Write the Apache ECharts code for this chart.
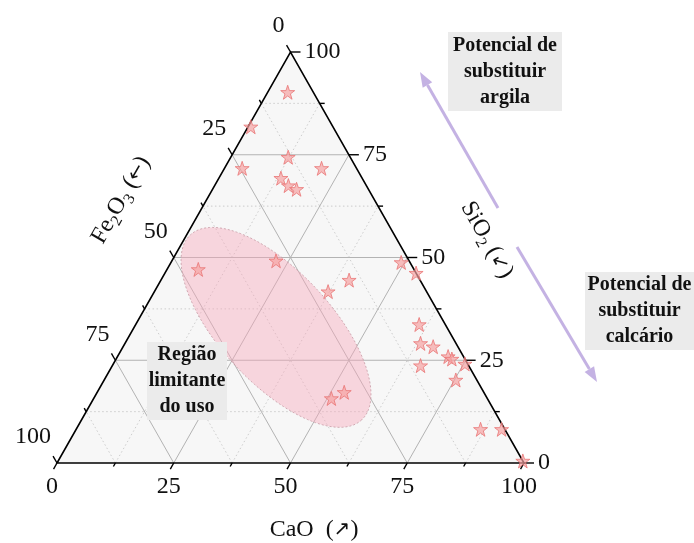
<!DOCTYPE html>
<html>
<head>
<meta charset="utf-8">
<script src="https://cdn.jsdelivr.net/npm/echarts@6/dist/echarts.min.js"></script>
<style>
  html, body { margin: 0; padding: 0; background: #fff; }
  #chart { width: 694px; height: 543px; }
</style>
</head>
<body>
<div id="chart"></div>
<script>
// Oxide composition of each sample (wt%)
const cao   = [4.3, 0.6, 12.3, 3.8, 20.8, 13.3, 15.8, 18.0, 6.7, 22.3, 37.2, 40.3, 50.9, 52.9,
               49.3, 53.8, 60.7, 63.3, 66.4, 70.8, 71.9, 75.3, 66.0, 75.3, 86.6, 91.1, 99.5];
const sio2  = [90.2, 81.8, 74.4, 71.7, 71.7, 69.3, 67.5, 66.6, 47.1, 49.2, 41.7, 44.5, 15.7, 17.2,
               48.8, 46.2, 33.7, 29.1, 28.3, 25.9, 25.3, 24.1, 23.7, 20.2, 8.2, 8.2, 0.5];
const fe2o3 = [5.5, 17.6, 13.3, 24.5, 7.5, 17.4, 16.7, 15.4, 46.2, 28.5, 21.1, 15.2, 33.4, 29.9,
               1.9, 0.0, 5.6, 7.6, 5.3, 3.3, 2.8, 0.6, 10.3, 4.5, 5.2, 0.7, 0.0];

// Ternary axis ticks
const majorTicks = [0, 25, 50, 75, 100];
const minorTicks = [12.5, 37.5, 62.5, 87.5];
const tickLabels = ['0', '25', '50', '75', '100'];
const majorGrid  = [25, 50, 75];

// "Região limitante do uso" ellipse: centre and ends of its two semi-axes (CaO, SiO2, Fe2O3)
const ellipseCenter   = [30.4, 33.0, 36.6];
const ellipseMajorEnd = [60.0, 10.5, 29.5];
const ellipseMinorEnd = [34.6, 42.2, 23.2];

const SERIF = '"Liberation Serif", "Times New Roman", "DejaVu Serif", serif';
const ARROW_FONT = '"DejaVu Sans", sans-serif';

// ternary (CaO, SiO2, Fe2O3) -> cartesian value space of the hidden axes
function tern(c, s, f) {
  const t = c + s + f;
  return [(c + s / 2) / t * 100, s / t * 100];
}

function seg(p, q, style) {
  return { type: 'line', silent: true,
    shape: { x1: p[0], y1: p[1], x2: q[0], y2: q[1] }, style: style };
}
function txt(x, y, text, align, vAlign) {
  return { type: 'text', x: x, y: y, silent: true,
    style: { text: text, fill: '#111', fontSize: 24, fontFamily: SERIF,
      align: align, textAlign: align, verticalAlign: vAlign, textVerticalAlign: vAlign } };
}
function unit(p, q) {
  const dx = q[0] - p[0], dy = q[1] - p[1], L = Math.hypot(dx, dy);
  return [dx / L, dy / L];
}

function renderFrame(params, api) {
  const P = (c, s, f) => api.coord(tern(c, s, f));
  const A = P(0, 0, 100), B = P(100, 0, 0), T = P(0, 100, 0);
  const kids = [];
  kids.push({ type: 'polygon', silent: true, shape: { points: [A, B, T] }, style: { fill: '#f7f7f7' } });

  const minorStyle = { stroke: '#c2c2c2', lineWidth: 0.8, lineDash: [1.5, 2.5] };
  const majorStyle = { stroke: '#b3b3b3', lineWidth: 1 };
  const family = (v, st) => {
    kids.push(seg(P(0, v, 100 - v), P(100 - v, v, 0), st));   // SiO2 = v
    kids.push(seg(P(v, 0, 100 - v), P(v, 100 - v, 0), st));   // CaO = v
    kids.push(seg(P(100 - v, 0, v), P(0, 100 - v, v), st));   // Fe2O3 = v
  };
  minorTicks.forEach(v => family(v, minorStyle));
  majorGrid.forEach(v => family(v, majorStyle));

  kids.push({ type: 'polygon', silent: true, shape: { points: [A, B, T] },
    style: { fill: 'none', stroke: '#000', lineWidth: 1.6 } });

  // tick directions follow each axis' grid lines, pointing outwards
  const dBottom = unit(T, A);
  const dRight = [1, 0];
  const dLeft = unit(B, T);
  const tickStyle = { stroke: '#000', lineWidth: 1.4 };
  const tick = (p, d, len) => seg(p, [p[0] + d[0] * len, p[1] + d[1] * len], tickStyle);

  majorTicks.forEach((v, i) => {
    const pb = P(v, 0, 100 - v);
    const pr = P(100 - v, v, 0);
    const pl = P(0, 100 - v, v);
    kids.push(tick(pb, dBottom, 7));
    kids.push(tick(pr, dRight, 10));
    kids.push(tick(pl, dLeft, 8));
    kids.push(txt(pb[0] - 5, pb[1] + 24, tickLabels[i], 'center', 'middle'));
    kids.push(txt(pr[0] + 14, pr[1], tickLabels[i], 'left', 'middle'));
    kids.push(txt(pl[0] - 6, pl[1] - 26, tickLabels[i], 'right', 'middle'));
  });
  minorTicks.forEach(v => {
    kids.push(tick(P(v, 0, 100 - v), dBottom, 4));
    kids.push(tick(P(100 - v, v, 0), dRight, 5));
    kids.push(tick(P(0, 100 - v, v), dLeft, 4));
  });
  return { type: 'group', children: kids };
}

function renderEllipse(params, api) {
  const C = api.coord(tern.apply(null, ellipseCenter));
  const M = api.coord(tern.apply(null, ellipseMajorEnd));
  const N = api.coord(tern.apply(null, ellipseMinorEnd));
  const a = Math.hypot(M[0] - C[0], M[1] - C[1]);
  const b = Math.hypot(N[0] - C[0], N[1] - C[1]);
  const ang = Math.atan2(M[1] - C[1], M[0] - C[0]);
  const ca = Math.cos(ang), sa = Math.sin(ang);
  const pts = [];
  for (let k = 0; k < 144; k++) {
    const t = k / 144 * 2 * Math.PI;
    const ex = a * Math.cos(t), ey = b * Math.sin(t);
    pts.push([C[0] + ex * ca - ey * sa, C[1] + ex * sa + ey * ca]);
  }
  return { type: 'polygon', silent: true, shape: { points: pts },
    style: { fill: 'rgba(247,168,186,0.42)', stroke: '#c79aa4', lineWidth: 0.8, lineDash: [2, 2] } };
}

// lavender arrows beside the SiO2 axis
function arrow(tail, tip) {
  const d = unit(tail, tip), n = [-d[1], d[0]];
  const len = 15, hw = 5.5;
  const base = [tip[0] - d[0] * len, tip[1] - d[1] * len];
  return [
    { type: 'line', silent: true, z: 100, shape: { x1: tail[0], y1: tail[1], x2: base[0], y2: base[1] },
      style: { stroke: '#c4b2e3', lineWidth: 3 } },
    { type: 'polygon', silent: true, z: 100,
      shape: { points: [tip, [base[0] + n[0] * hw, base[1] + n[1] * hw], [base[0] - n[0] * hw, base[1] - n[1] * hw]] },
      style: { fill: '#c4b2e3' } }
  ];
}

function noteBox(x, y, w, h, text) {
  return [
    { type: 'rect', silent: true, z: 100, shape: { x: x, y: y, width: w, height: h }, style: { fill: '#ebebeb' } },
    { type: 'text', silent: true, z: 101, x: x + w / 2, y: y + h / 2,
      style: { text: text, fill: '#111', fontSize: 20, fontWeight: 'bold', fontFamily: SERIF, lineHeight: 26,
        align: 'center', textAlign: 'center', verticalAlign: 'middle', textVerticalAlign: 'middle' } }
  ];
}

const titleRich = {
  n: { fontSize: 24, fontFamily: SERIF, fill: '#111', color: '#111', lineHeight: 30, verticalAlign: 'middle' },
  s: { fontSize: 16, fontFamily: SERIF, fill: '#111', color: '#111', lineHeight: 16, verticalAlign: 'bottom' },
  a: { fontSize: 20, fontFamily: ARROW_FONT, fill: '#111', color: '#111', lineHeight: 30, verticalAlign: 'middle' }
};
function axisTitle(x, y, rot, text) {
  return { type: 'text', silent: true, z: 100, x: x, y: y, rotation: rot,
    style: { text: text, rich: titleRich, fill: '#111',
      align: 'center', textAlign: 'center', verticalAlign: 'middle', textVerticalAlign: 'middle' } };
}

const edgeAngle = Math.atan2(411, 233.5);

const chart = echarts.init(document.getElementById('chart'), null, { renderer: 'canvas' });
chart.setOption({
  animation: false,
  backgroundColor: '#fff',
  grid: { left: 57, top: 52, width: 467, height: 411 },
  xAxis: { type: 'value', min: 0, max: 100, show: false },
  yAxis: { type: 'value', min: 0, max: 100, show: false },
  series: [
    { type: 'custom', name: 'frame', coordinateSystem: 'cartesian2d', clip: false, silent: true,
      data: [[0, 0]], renderItem: renderFrame, z: 1 },
    { type: 'custom', name: 'Região limitante do uso', coordinateSystem: 'cartesian2d', clip: false, silent: true,
      data: [[0, 0]], renderItem: renderEllipse, z: 2 },
    { type: 'scatter', name: 'amostras', clip: false, z: 3,
      symbol: 'path://M50,2 L61.8,36.2 L97.6,36.2 L68.6,57.4 L79.6,91.8 L50,70.6 L20.4,91.8 L31.4,57.4 L2.4,36.2 L38.2,36.2 Z',
      symbolSize: 14,
      itemStyle: { color: 'rgba(245,160,160,0.85)', borderColor: '#ea7676', borderWidth: 1 },
      data: cao.map((c, i) => tern(c, sio2[i], fe2o3[i])) }
  ],
  graphic: [].concat(
    noteBox(448, 32, 114, 79, 'Potencial de\nsubstituir\nargila'),
    noteBox(585, 272, 109, 78, 'Potencial de\nsubstituir\ncalcário'),
    noteBox(147, 342, 80, 78, 'Região\nlimitante\ndo uso'),
    arrow([498, 208], [420, 72]),
    arrow([517, 247], [597, 382]),
    [
      axisTitle(314, 530, 0, '{n|CaO  (}{a|↗}{n|)}'),
      axisTitle(121, 200, edgeAngle, '{n|Fe}{s|2}{n|O}{s|3}{n| (}{a|←}{n|)}'),
      axisTitle(487, 240, -edgeAngle, '{n|SiO}{s|2}{n| (}{a|↙}{n|)}')
    ]
  )
});
</script>
</body>
</html>
